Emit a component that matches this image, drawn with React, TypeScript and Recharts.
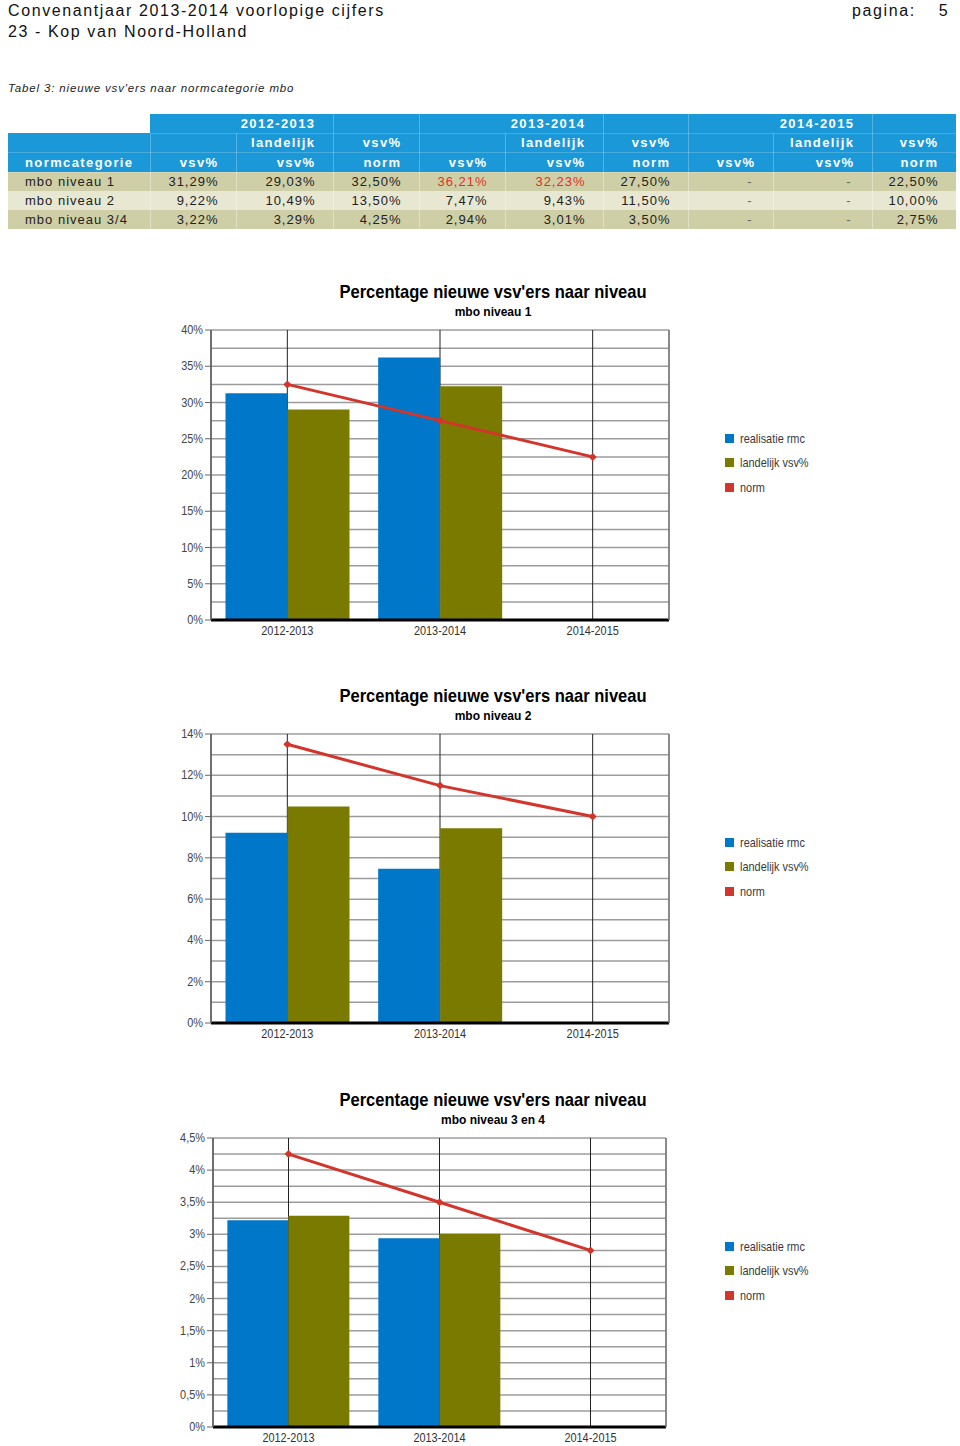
import React from 'react';
import { ComposedChart, Bar, Line, XAxis, YAxis, CartesianGrid, Legend } from 'recharts';

// ---------- data ----------
const categories = ['2012-2013', '2013-2014', '2014-2015'];
const seriesNames = ['realisatie rmc', 'landelijk vsv%', 'norm'];

const niveau1Realisatie = [31.29, 36.21, null];
const niveau1Landelijk = [29.03, 32.23, null];
const niveau1Norm = [32.5, 27.5, 22.5];

const niveau2Realisatie = [9.22, 7.47, null];
const niveau2Landelijk = [10.49, 9.43, null];
const niveau2Norm = [13.5, 11.5, 10.0];

const niveau34Realisatie = [3.22, 2.94, null];
const niveau34Landelijk = [3.29, 3.01, null];
const niveau34Norm = [4.25, 3.5, 2.75];

const yTicks1 = [0, 2.5, 5, 7.5, 10, 12.5, 15, 17.5, 20, 22.5, 25, 27.5, 30, 32.5, 35, 37.5, 40];
const yLabels1 = [0, 5, 10, 15, 20, 25, 30, 35, 40];
const yTicks2 = [0, 1, 2, 3, 4, 5, 6, 7, 8, 9, 10, 11, 12, 13, 14];
const yLabels2 = [0, 2, 4, 6, 8, 10, 12, 14];
const yTicks3 = [0, 0.25, 0.5, 0.75, 1, 1.25, 1.5, 1.75, 2, 2.25, 2.5, 2.75, 3, 3.25, 3.5, 3.75, 4, 4.25, 4.5];
const yLabels3 = [0, 0.5, 1, 1.5, 2, 2.5, 3, 3.5, 4, 4.5];

const tableYears = ['2012-2013', '2013-2014', '2014-2015'];
const tableRowNames = ['mbo niveau 1', 'mbo niveau 2', 'mbo niveau 3/4'];
const tableRow1 = ['31,29%', '29,03%', '32,50%', '36,21%', '32,23%', '27,50%', '-', '-', '22,50%'];
const tableRow2 = ['9,22%', '10,49%', '13,50%', '7,47%', '9,43%', '11,50%', '-', '-', '10,00%'];
const tableRow3 = ['3,22%', '3,29%', '4,25%', '2,94%', '3,01%', '3,50%', '-', '-', '2,75%'];
const tableRedCells = [[0, 3], [0, 4]];

// ---------- styles ----------
const SANS = "'Liberation Sans', Arial, Helvetica, sans-serif";
const NARROW_SCALE = 0.84;
const BLUE = '#0077c8';
const OLIVE = '#7a7a00';
const RED = '#d2352b';
const HEAD_BLUE = '#1b98d8';
const ROW_DARK = '#cfcfa7';
const ROW_LIGHT = '#e7e7d2';

const build = (r: (number | null)[], l: (number | null)[], n: number[]) =>
  categories.map((c, i) => ({ year: c, realisatie: r[i], landelijk: l[i], norm: n[i] }));

const fmtPct = (v: number) => String(v).replace('.', ',') + '%';

const makeYTick = (labels: number[]) => (props: any) => {
  const { x, y, payload } = props;
  const v = payload.value;
  if (!labels.includes(v)) return <g />;
  return (
    <g>
      <line x1={x + 2} x2={x + 8} y1={y} y2={y} stroke="#666" strokeWidth={1} />
      <g transform={`translate(${x},${y}) scale(${NARROW_SCALE},1)`}>
        <text x={0} y={0} dy={4} textAnchor="end" fontSize={13} fill="#444" fontFamily={SANS}>
          {fmtPct(v)}
        </text>
      </g>
    </g>
  );
};

const XTick = (props: any) => {
  const { x, y, payload } = props;
  return (
    <g transform={`translate(${x},${y}) scale(${NARROW_SCALE},1)`}>
      <text x={0} y={0} dy="0.71em" textAnchor="middle" fontSize={13} fill="#333" fontFamily={SANS}>
        {payload.value}
      </text>
    </g>
  );
};

const Diamond = (props: any) => {
  const { cx, cy, index } = props;
  if (cx == null || cy == null) return <g key={index} />;
  return (
    <path
      key={index}
      d={`M${cx},${cy - 4}L${cx + 4},${cy}L${cx},${cy + 4}L${cx - 4},${cy}Z`}
      fill={RED}
    />
  );
};

const renderLegend = (props: any) => {
  const payload = props.payload || [];
  const ordered = seriesNames
    .map((n) => payload.find((p: any) => p.value === n))
    .filter(Boolean);
  return (
    <div style={{ fontFamily: SANS, fontSize: 13, color: '#3a3a3a' }}>
      {ordered.map((entry: any) => (
        <div key={entry.value} style={{ height: 24.5, display: 'flex', alignItems: 'center', whiteSpace: 'nowrap' }}>
          <span
            style={{ width: 9, height: 9, background: entry.color, marginRight: 6, display: 'inline-block', flex: 'none' }}
          />
          <span style={{ display: 'inline-block', transform: `scaleX(${NARROW_SCALE})`, transformOrigin: 'left center' }}>
            {entry.value}
          </span>
        </div>
      ))}
    </div>
  );
};

type ChartProps = {
  top: number;
  plotTop: number;
  plotLeft: number;
  plotRight: number;
  plotHeight: number;
  title: string;
  subtitle: string;
  data: any[];
  ticks: number[];
  labels: number[];
  max: number;
};

function VsvChart(p: ChartProps) {
  const marginTop = p.plotTop - p.top;
  const xAxisHeight = 30;
  const height = marginTop + p.plotHeight + xAxisHeight + 5;
  const titleBaseline = marginTop - 31.5;
  const subBaseline = marginTop - 14;
  return (
    <div style={{ position: 'absolute', left: 0, top: p.top, width: 960, height }}>
      <div
        style={{
          position: 'absolute', left: 243, width: 500, top: titleBaseline - 16.2, textAlign: 'center',
          fontFamily: SANS, fontWeight: 'bold', fontSize: 19, lineHeight: '19px', color: '#000', whiteSpace: 'nowrap',
          transform: 'scaleX(0.87)', transformOrigin: '250px 50%',
        }}
      >
        {p.title}
      </div>
      <div
        style={{
          position: 'absolute', left: 293, width: 400, top: subBaseline - 10.2, textAlign: 'center',
          fontFamily: SANS, fontWeight: 'bold', fontSize: 12, lineHeight: '12px', color: '#000', whiteSpace: 'nowrap',
        }}
      >
        {p.subtitle}
      </div>
      <ComposedChart
        width={960}
        height={height}
        data={p.data}
        margin={{ top: marginTop, right: 960 - p.plotRight - 1, bottom: 5, left: 0 }}
        barCategoryGap="9.5%"
        barGap={0}
        style={{ position: 'absolute', left: 0, top: 0 }}
      >
        <CartesianGrid vertical={false} stroke="#9c9c9c" strokeWidth={1.5} />
        <CartesianGrid horizontal={false} stroke="#222" strokeWidth={1} />
        <XAxis
          dataKey="year"
          tickLine={false}
          tickSize={0}
          tickMargin={6}
          height={xAxisHeight}
          axisLine={{ stroke: '#000', strokeWidth: 3 }}
          tick={XTick}
        />
        <YAxis
          width={p.plotLeft}
          domain={[0, p.max]}
          ticks={p.ticks}
          interval={0}
          tickLine={false}
          tickSize={6}
          tickMargin={2}
          axisLine={{ stroke: '#666', strokeWidth: 1.5 }}
          tick={makeYTick(p.labels)}
        />
        <YAxis
          yAxisId="r"
          orientation="right"
          domain={[0, 1]}
          width={1}
          tick={false}
          tickLine={false}
          axisLine={{ stroke: '#888', strokeWidth: 1.5 }}
        />
        <Legend
          layout="vertical"
          align="center"
          verticalAlign="middle"
          content={renderLegend}
          wrapperStyle={{ left: 725, top: marginTop + 95.75, width: 'auto', height: 'auto' }}
        />
        <Bar dataKey="realisatie" name={seriesNames[0]} fill={BLUE} isAnimationActive={false} />
        <Bar dataKey="landelijk" name={seriesNames[1]} fill={OLIVE} isAnimationActive={false} />
        <Line
          dataKey="norm"
          name={seriesNames[2]}
          stroke={RED}
          strokeWidth={3}
          dot={Diamond}
          activeDot={false}
          isAnimationActive={false}
        />
      </ComposedChart>
    </div>
  );
}

const th: React.CSSProperties = {
  background: HEAD_BLUE, color: '#fff', fontWeight: 'bold', fontSize: 13, letterSpacing: '1.4px',
  padding: '0 17px 0 0', textAlign: 'right', borderRight: '1px solid rgba(255,255,255,0.25)',
  borderBottom: '1px solid rgba(255,255,255,0.2)', whiteSpace: 'nowrap', overflow: 'visible',
};

function DataTable() {
  const rows = [tableRow1, tableRow2, tableRow3];
  const colWidths = [142, 86, 97, 86, 86, 98, 85, 85, 99, 84];
  const isRed = (r: number, c: number) => tableRedCells.some(([a, b]) => a === r && b === c);
  return (
    <table
      style={{
        position: 'absolute', left: 8, top: 114, width: 948, borderCollapse: 'collapse', tableLayout: 'fixed',
        fontFamily: SANS, fontSize: 13, letterSpacing: '1px', color: '#222',
      }}
    >
      <colgroup>
        {colWidths.map((w, i) => (
          <col key={i} style={{ width: w }} />
        ))}
      </colgroup>
      <tbody>
        <tr style={{ height: 19 }}>
          <td style={{ background: '#fff', padding: 0 }} />
          {tableYears.map((y) => (
            <React.Fragment key={y}>
              <td colSpan={2} style={th}>{y}</td>
              <td style={th} />
            </React.Fragment>
          ))}
        </tr>
        <tr style={{ height: 19 }}>
          <td style={th} />
          {tableYears.map((y) => (
            <React.Fragment key={y}>
              <td style={th} />
              <td style={th}>landelijk</td>
              <td style={th}>vsv%</td>
            </React.Fragment>
          ))}
        </tr>
        <tr style={{ height: 20 }}>
          <td style={{ ...th, textAlign: 'left', padding: '0 0 0 17px' }}>normcategorie</td>
          {tableYears.map((y) => (
            <React.Fragment key={y}>
              <td style={th}>vsv%</td>
              <td style={th}>vsv%</td>
              <td style={th}>norm</td>
            </React.Fragment>
          ))}
        </tr>
        {rows.map((row, ri) => (
          <tr key={ri} style={{ height: 19, background: ri === 1 ? ROW_LIGHT : ROW_DARK }}>
            <td style={{ padding: '0 0 0 17px', whiteSpace: 'nowrap', borderRight: '1px solid rgba(255,255,255,0.35)' }}>
              {tableRowNames[ri]}
            </td>
            {row.map((v, ci) => (
              <td
                key={ci}
                style={{
                  textAlign: 'right',
                  padding: v === '-' ? '0 20px 0 0' : '0 17px 0 0',
                  whiteSpace: 'nowrap',
                  color: isRed(ri, ci) ? '#e0301e' : v === '-' ? '#666' : '#222',
                  borderRight: '1px solid rgba(255,255,255,0.35)',
                }}
              >
                {v}
              </td>
            ))}
          </tr>
        ))}
      </tbody>
    </table>
  );
}

export default function App() {
  return (
    <div style={{ position: 'relative', width: 960, height: 1446, background: '#fff', overflow: 'hidden' }}>
      <style>{`body{margin:0;background:#fff}`}</style>
      <div
        style={{
          position: 'absolute', left: 8, top: 0, fontFamily: SANS, fontSize: 16, letterSpacing: '1.6px',
          lineHeight: '21px', color: '#111', whiteSpace: 'nowrap',
        }}
      >
        <div>Convenantjaar 2013-2014 voorlopige cijfers</div>
        <div>23 - Kop van Noord-Holland</div>
      </div>
      <div
        style={{
          position: 'absolute', left: 852, top: 0, fontFamily: SANS, fontSize: 16, letterSpacing: '1.6px',
          lineHeight: '21px', color: '#111', whiteSpace: 'nowrap',
        }}
      >
        pagina:<span style={{ display: 'inline-block', width: 23 }} />5
      </div>
      <div
        style={{
          position: 'absolute', left: 8, top: 81, fontFamily: SANS, fontSize: 11.5, fontStyle: 'italic',
          letterSpacing: '0.85px', color: '#222', whiteSpace: 'nowrap', lineHeight: '14px',
        }}
      >
        Tabel 3: nieuwe vsv'ers naar normcategorie mbo
      </div>
      <DataTable />
      <VsvChart
        top={270}
        plotTop={330}
        plotLeft={211}
        plotRight={669}
        plotHeight={290}
        title="Percentage nieuwe vsv'ers naar niveau"
        subtitle="mbo niveau 1"
        data={build(niveau1Realisatie, niveau1Landelijk, niveau1Norm)}
        ticks={yTicks1}
        labels={yLabels1}
        max={40}
      />
      <VsvChart
        top={674}
        plotTop={734}
        plotLeft={211}
        plotRight={669}
        plotHeight={289}
        title="Percentage nieuwe vsv'ers naar niveau"
        subtitle="mbo niveau 2"
        data={build(niveau2Realisatie, niveau2Landelijk, niveau2Norm)}
        ticks={yTicks2}
        labels={yLabels2}
        max={14}
      />
      <VsvChart
        top={1078}
        plotTop={1138}
        plotLeft={213}
        plotRight={666}
        plotHeight={289}
        title="Percentage nieuwe vsv'ers naar niveau"
        subtitle="mbo niveau 3 en 4"
        data={build(niveau34Realisatie, niveau34Landelijk, niveau34Norm)}
        ticks={yTicks3}
        labels={yLabels3}
        max={4.5}
      />
    </div>
  );
}
